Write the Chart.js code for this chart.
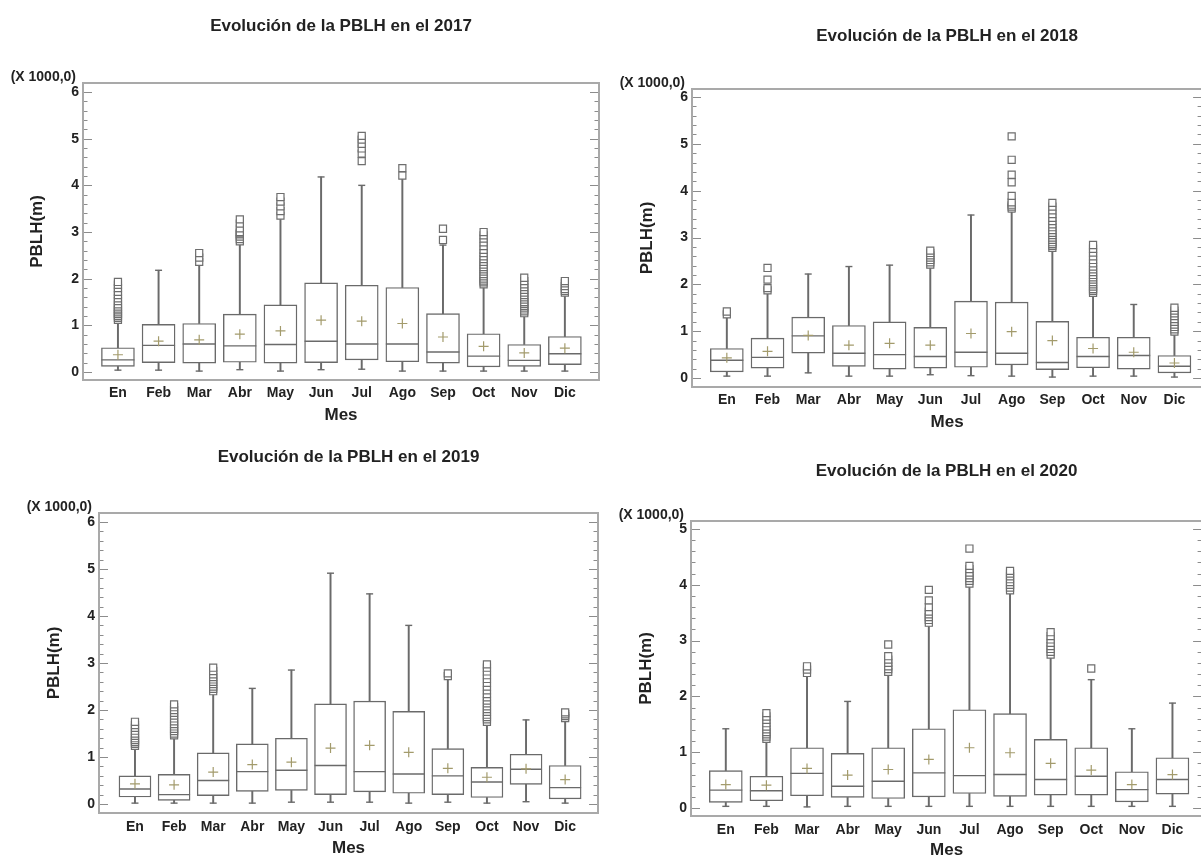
<!DOCTYPE html>
<html><head><meta charset="utf-8">
<script src="https://cdn.jsdelivr.net/npm/chart.js@4.4.1/dist/chart.umd.min.js"></script>
<style>
html,body{margin:0;padding:0;background:#fff;overflow:hidden;width:1201px;height:859px;position:relative}
canvas{position:absolute}
</style></head><body>
<canvas id="c2017" width="620" height="430" style="left:0px;top:0px;width:620px;height:430px"></canvas>
<canvas id="c2018" width="620" height="437" style="left:600px;top:0px;width:620px;height:437px"></canvas>
<canvas id="c2019" width="620" height="419" style="left:0px;top:440px;width:620px;height:419px"></canvas>
<canvas id="c2020" width="620" height="421" style="left:600px;top:440px;width:620px;height:421px"></canvas>
<script>
const months = ['En','Feb','Mar','Abr','May','Jun','Jul','Ago','Sep','Oct','Nov','Dic'];

// 2017
const low2017  = [0.04,0.04,0.02,0.05,0.02,0.05,0.06,0.02,0.02,0.02,0.02,0.02];
const q1_2017  = [0.12,0.20,0.19,0.21,0.19,0.20,0.26,0.22,0.19,0.11,0.12,0.16];
const med2017  = [0.26,0.57,0.60,0.56,0.59,0.66,0.60,0.60,0.43,0.34,0.25,0.39];
const q3_2017  = [0.52,1.02,1.04,1.24,1.44,1.91,1.86,1.81,1.25,0.82,0.59,0.76];
const high2017 = [1.08,2.18,2.30,2.75,3.30,4.18,4.00,4.15,2.72,1.84,1.21,1.65];
const mean2017 = [0.37,0.66,0.69,0.81,0.88,1.11,1.09,1.04,0.75,0.55,0.41,0.51];
const out2017 = [
  [1.12,1.16,1.2,1.24,1.28,1.32,1.36,1.4,1.45,1.52,1.58,1.65,1.72,1.8,1.87,1.93],
  [],
  [2.36,2.45,2.55],
  [2.8,2.85,2.9,2.95,2.97,3.0,3.08,3.18,3.27],
  [3.35,3.45,3.55,3.65,3.75],
  [],
  [4.52,4.68,4.79,4.89,4.98,5.06],
  [4.21,4.37],
  [2.83,3.07],
  [1.88,1.92,1.96,2.0,2.05,2.1,2.15,2.2,2.25,2.3,2.36,2.42,2.48,2.55,2.62,2.7,2.78,2.86,2.93,3.0],
  [1.26,1.3,1.34,1.38,1.42,1.46,1.5,1.55,1.6,1.65,1.7,1.76,1.82,1.88,1.95,2.02],
  [1.7,1.74,1.78,1.84,1.9,1.95]
];

// 2018
const low2018  = [0.04,0.04,0.11,0.04,0.04,0.07,0.05,0.04,0.02,0.04,0.04,0.02];
const q1_2018  = [0.13,0.21,0.53,0.25,0.19,0.21,0.23,0.28,0.18,0.22,0.19,0.11];
const med2018  = [0.38,0.44,0.90,0.53,0.50,0.46,0.55,0.53,0.33,0.46,0.48,0.25];
const q3_2018  = [0.63,0.85,1.30,1.12,1.20,1.08,1.64,1.62,1.21,0.87,0.87,0.48];
const high2018 = [1.30,1.82,2.22,2.38,2.41,2.36,3.48,3.55,2.74,1.78,1.57,0.95];
const mean2018 = [0.43,0.57,0.91,0.70,0.74,0.70,0.95,0.99,0.80,0.63,0.55,0.32];
const out2018 = [
  [1.36,1.42],
  [1.87,1.92,2.1,2.35],
  [], [], [],
  [2.42,2.47,2.52,2.57,2.62,2.67,2.72],
  [],
  [3.62,3.66,3.7,3.75,3.89,4.18,4.34,4.66,5.16],
  [2.78,2.82,2.86,2.9,2.95,3.0,3.05,3.1,3.16,3.22,3.28,3.35,3.42,3.5,3.58,3.66,3.74],
  [1.82,1.86,1.9,1.95,2.0,2.05,2.1,2.15,2.2,2.26,2.32,2.38,2.45,2.52,2.6,2.68,2.76,2.84],
  [],
  [0.99,1.04,1.09,1.14,1.2,1.26,1.32,1.38,1.44,1.5]
];

// 2019
const low2019  = [0.02,0.02,0.02,0.02,0.04,0.04,0.04,0.02,0.04,0.02,0.05,0.02];
const q1_2019  = [0.15,0.08,0.18,0.27,0.29,0.20,0.26,0.23,0.20,0.14,0.42,0.11];
const med2019  = [0.32,0.20,0.50,0.69,0.72,0.82,0.69,0.64,0.60,0.47,0.74,0.35];
const q3_2019  = [0.60,0.63,1.09,1.28,1.40,2.13,2.19,1.97,1.18,0.78,1.06,0.82];
const high2019 = [1.20,1.42,2.36,2.46,2.85,4.91,4.47,3.80,2.68,1.70,1.79,1.79];
const mean2019 = [0.43,0.41,0.68,0.84,0.89,1.19,1.25,1.10,0.76,0.57,0.75,0.52];
const out2019 = [
  [1.24,1.28,1.32,1.36,1.4,1.45,1.5,1.56,1.62,1.68,1.75],
  [1.46,1.5,1.55,1.6,1.65,1.7,1.76,1.82,1.88,1.94,2.0,2.06,2.12],
  [2.4,2.45,2.5,2.55,2.6,2.65,2.7,2.76,2.83,2.9],
  [], [], [], [], [],
  [2.72,2.78],
  [1.75,1.8,1.85,1.9,1.96,2.02,2.08,2.14,2.2,2.27,2.34,2.42,2.5,2.58,2.66,2.74,2.82,2.9,2.97],
  [],
  [1.83,1.87,1.91,1.95]
];

// 2020
const low2020  = [0.03,0.03,0.02,0.03,0.03,0.03,0.03,0.03,0.03,0.03,0.03,0.03];
const q1_2020  = [0.10,0.13,0.22,0.19,0.17,0.20,0.26,0.21,0.23,0.23,0.11,0.25];
const med2020  = [0.32,0.31,0.62,0.39,0.48,0.63,0.58,0.60,0.51,0.57,0.33,0.51];
const q3_2020  = [0.67,0.57,1.08,0.98,1.08,1.42,1.76,1.69,1.23,1.08,0.65,0.90];
const high2020 = [1.42,1.20,2.37,1.91,2.40,3.27,3.98,3.85,2.70,2.30,1.42,1.88];
const mean2020 = [0.42,0.41,0.71,0.59,0.69,0.87,1.08,0.99,0.80,0.68,0.42,0.60];
const out2020 = [
  [],
  [1.24,1.28,1.32,1.36,1.41,1.46,1.52,1.58,1.64,1.7],
  [2.42,2.48,2.54],
  [],
  [2.44,2.49,2.54,2.6,2.66,2.72,2.93],
  [3.32,3.37,3.42,3.47,3.52,3.6,3.72,3.91],
  [4.02,4.07,4.12,4.17,4.22,4.28,4.34,4.65],
  [3.9,3.95,4.0,4.05,4.1,4.15,4.2,4.25],
  [2.75,2.8,2.85,2.9,2.96,3.02,3.08,3.15],
  [2.5],
  [], []
];

const seriesByYear = {
  '2017': {low: low2017, q1: q1_2017, med: med2017, q3: q3_2017, high: high2017, mean: mean2017, out: out2017},
  '2018': {low: low2018, q1: q1_2018, med: med2018, q3: q3_2018, high: high2018, mean: mean2018, out: out2018},
  '2019': {low: low2019, q1: q1_2019, med: med2019, q3: q3_2019, high: high2019, mean: mean2019, out: out2019},
  '2020': {low: low2020, q1: q1_2020, med: med2020, q3: q3_2020, high: high2020, mean: mean2020, out: out2020}
};

// layout (positions & sizes only)
const panels = [
  {year:'2017', id:'c2017', yW:83, xH:50, padR:21, tTop:16.3, tBot:46.3, yTitlePad:26.8, xLabPad:4.6, xTitlePad:4, xMin:-0.86, xMax:11.84, yMin:-0.171, yMax:6.193, box:33},
  {year:'2018', id:'c2018', yW:92, xH:50, padR:15, tTop:25.8, tBot:42.8, yTitlePad:36.8, xLabPad:4.6, xTitlePad:4.8, xMin:-0.856, xMax:11.68, yMin:-0.192, yMax:6.171, box:33},
  {year:'2019', id:'c2019', yW:99, xH:46, padR:22, tTop:6.8, tBot:45.8, yTitlePad:43.8, xLabPad:5.6, xTitlePad:0, xMin:-0.92, xMax:11.84, yMin:-0.19, yMax:6.19, box:32},
  {year:'2020', id:'c2020', yW:91, xH:45, padR:15, tTop:20.8, tBot:39.8, yTitlePad:35.8, xLabPad:5.6, xTitlePad:0, xMin:-0.857, xMax:11.73, yMin:-0.143, yMax:5.143, box:33}
];

Chart.defaults.font.family = "'Liberation Sans', Arial, sans-serif";
Chart.defaults.color = '#222';

const BOX = '#6a6a6a';
const frameTicks = {
  id: 'frameTicks',
  beforeDatasetsDraw(chart) {
    const {ctx, chartArea: a, scales: {y}} = chart;
    ctx.save();
    ctx.strokeStyle = '#8c8c8c';
    ctx.lineWidth = 1.2;
    const top = Math.floor(y.max);
    ctx.beginPath();
    for (let k = 0; k <= top * 5; k++) {
      const p = Math.round(y.getPixelForValue(k / 5)) + 0.5;
      const len = (k % 5 === 0) ? 9 : 4.5;
      ctx.moveTo(a.left, p); ctx.lineTo(a.left + len, p);
      ctx.moveTo(a.right, p); ctx.lineTo(a.right - len, p);
    }
    ctx.stroke();
    ctx.strokeStyle = '#a9a9a9';
    ctx.lineWidth = 2;
    ctx.strokeRect(a.left, a.top, a.right - a.left, a.bottom - a.top);
    ctx.restore();
  },
  afterDraw(chart) {
    const {ctx, chartArea: a} = chart;
    ctx.save();
    ctx.font = "bold 14px 'Liberation Sans', Arial, sans-serif";
    ctx.fillStyle = '#222';
    ctx.textAlign = 'right';
    ctx.textBaseline = 'middle';
    ctx.fillText('(X 1000,0)', a.left - 7, a.top - 6);
    ctx.restore();
  }
};

panels.forEach(P => {
  const S = seriesByYear[P.year];
  const idx = months.map((m, i) => i);
  const boxes = idx.map(i => ({x: i, y: [S.q1[i], S.q3[i]]}));
  const whUp = idx.map(i => ({x: i, y: [S.q3[i], S.high[i]]}));
  const whDn = idx.map(i => ({x: i, y: [S.low[i], S.q1[i]]}));
  const medians = idx.map(i => ({x: i, y: S.med[i]}));
  const caps = [];
  idx.forEach(i => { caps.push({x: i, y: S.low[i]}); caps.push({x: i, y: S.high[i]}); });
  const means = idx.map(i => ({x: i, y: S.mean[i]}));
  const outs = [];
  S.out.forEach((arr, i) => arr.forEach(v => outs.push({x: i, y: v})));

  new Chart(document.getElementById(P.id), {
    type: 'bar',
    data: {
      datasets: [
        {type: 'bar', data: whUp, grouped: false, barThickness: 1.3, backgroundColor: BOX, borderWidth: 0, order: 5},
        {type: 'bar', data: whDn, grouped: false, barThickness: 1.3, backgroundColor: BOX, borderWidth: 0, order: 5},
        {type: 'bar', data: boxes, grouped: false, barThickness: P.box, backgroundColor: 'rgba(255,255,255,1)', borderColor: BOX, borderWidth: 1.4, borderSkipped: false, order: 4},
        {type: 'scatter', data: medians, pointStyle: 'line', pointRadius: P.box / 2, borderColor: BOX, borderWidth: 1.4, order: 3},
        {type: 'scatter', data: caps, pointStyle: 'line', pointRadius: 3.5, borderColor: BOX, borderWidth: 1.4, order: 3},
        {type: 'scatter', data: means, pointStyle: 'cross', pointRadius: 5, borderColor: '#a39b6c', borderWidth: 1.2, order: 2},
        {type: 'scatter', data: outs, pointStyle: 'rect', pointRadius: 5, borderColor: '#6e6e6e', backgroundColor: '#fff', borderWidth: 1.2, order: 1}
      ]
    },
    options: {
      responsive: false,
      animation: false,
      devicePixelRatio: 1,
      layout: {padding: {left: 0, right: P.padR, top: 0, bottom: 0}},
      plugins: {
        legend: {display: false},
        tooltip: {enabled: false},
        title: {
          display: true, fullSize: false,
          text: 'Evolución de la PBLH en el ' + P.year,
          font: {size: 17, weight: 'bold'}, color: '#222',
          padding: {top: P.tTop, bottom: P.tBot}
        }
      },
      scales: {
        x: {
          type: 'linear', min: P.xMin, max: P.xMax, offset: false,
          grid: {display: false, drawTicks: false},
          border: {display: false},
          ticks: {
            stepSize: 1, includeBounds: false, autoSkip: false, maxRotation: 0,
            padding: P.xLabPad, color: '#222',
            font: {size: 14, weight: 'bold'},
            callback: v => (Number.isInteger(v) && months[v] !== undefined) ? months[v] : ''
          },
          title: {display: true, text: 'Mes', font: {size: 17, weight: 'bold'}, color: '#222', padding: {top: 0, bottom: P.xTitlePad}},
          afterFit: s => { s.height = P.xH; }
        },
        y: {
          type: 'linear', min: P.yMin, max: P.yMax,
          grid: {display: false, drawTicks: false},
          border: {display: false},
          ticks: {
            stepSize: 1, includeBounds: false, padding: 4, color: '#222',
            font: {size: 14, weight: 'bold'},
            callback: v => Number.isInteger(v) ? String(v) : ''
          },
          title: {display: true, text: 'PBLH(m)', font: {size: 17, weight: 'bold'}, color: '#222', padding: {top: P.yTitlePad, bottom: 0}},
          afterFit: s => { s.width = P.yW; }
        }
      }
    },
    plugins: [frameTicks]
  });
});
</script>
</body></html>
